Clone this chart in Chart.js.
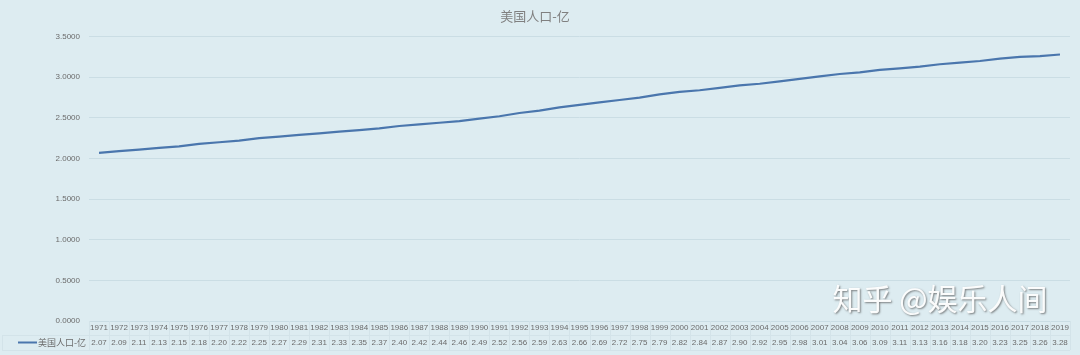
<!DOCTYPE html>
<html>
<head>
<meta charset="utf-8">
<script src="https://cdn.jsdelivr.net/npm/chart.js@4/dist/chart.umd.min.js"></script>
<style>
  html, body { margin: 0; padding: 0; background: #ddecf1; }
  #chart { display: block; }
</style>
</head>
<body>
<canvas id="chart" width="1080" height="355"></canvas>
<script>
// Données (population des USA, en centaines de millions)
const years = [
  '1971','1972','1973','1974','1975','1976','1977','1978','1979','1980',
  '1981','1982','1983','1984','1985','1986','1987','1988','1989','1990',
  '1991','1992','1993','1994','1995','1996','1997','1998','1999','2000',
  '2001','2002','2003','2004','2005','2006','2007','2008','2009','2010',
  '2011','2012','2013','2014','2015','2016','2017','2018','2019'
];
const population = [
  2.07, 2.09, 2.11, 2.13, 2.15, 2.18, 2.20, 2.22, 2.25, 2.27,
  2.29, 2.31, 2.33, 2.35, 2.37, 2.40, 2.42, 2.44, 2.46, 2.49,
  2.52, 2.56, 2.59, 2.63, 2.66, 2.69, 2.72, 2.75, 2.79, 2.82,
  2.84, 2.87, 2.90, 2.92, 2.95, 2.98, 3.01, 3.04, 3.06, 3.09,
  3.11, 3.13, 3.16, 3.18, 3.20, 3.23, 3.25, 3.26, 3.28
];
const yTicks = [0, 0.5, 1.0, 1.5, 2.0, 2.5, 3.0, 3.5];
const seriesName = '美国人口-亿';
const chartTitle = '美国人口-亿';
const watermark = '知乎 @娱乐人间';

const lineColor = '#4a76ad';
const gridColor = '#cadde4';
const textColor = '#6b6b6b';
const numFont = "'Liberation Sans', sans-serif";
const cjkFont = "'Noto Sans CJK SC', sans-serif";

// Tableau de données sous l'axe (comme dans Excel) + filigrane
const dataTable = {
  id: 'dataTable',
  afterDraw(chart) {
    const ctx = chart.ctx;
    const x = chart.scales.x;
    const area = chart.chartArea;
    const rowMid = 335;
    const bottom = 350;
    const half = (x.getPixelForValue(1) - x.getPixelForValue(0)) / 2;
    ctx.save();

    // lignes du tableau
    ctx.strokeStyle = '#d3e3e9';
    ctx.lineWidth = 1;
    ctx.beginPath();
    ctx.moveTo(2, rowMid + 0.5);
    ctx.lineTo(area.right, rowMid + 0.5);
    ctx.moveTo(2, bottom + 0.5);
    ctx.lineTo(area.right, bottom + 0.5);
    ctx.moveTo(2.5, rowMid);
    ctx.lineTo(2.5, bottom);
    years.forEach((y, i) => {
      const px = Math.round(x.getPixelForValue(i) - half) + 0.5;
      ctx.moveTo(px, area.bottom);
      ctx.lineTo(px, bottom);
    });
    ctx.moveTo(Math.round(area.right) + 0.5, area.bottom);
    ctx.lineTo(Math.round(area.right) + 0.5, bottom);
    ctx.stroke();

    // légende de la série
    ctx.strokeStyle = lineColor;
    ctx.lineWidth = 2;
    ctx.beginPath();
    ctx.moveTo(18, 342.5);
    ctx.lineTo(37, 342.5);
    ctx.stroke();
    ctx.fillStyle = textColor;
    ctx.font = '9px ' + cjkFont;
    ctx.textAlign = 'left';
    ctx.textBaseline = 'middle';
    ctx.fillText(seriesName, 38, 343);

    // valeurs
    ctx.font = '8px ' + numFont;
    ctx.textAlign = 'center';
    population.forEach((v, i) => {
      ctx.fillText(v.toFixed(2), x.getPixelForValue(i), 343);
    });

    // filigrane
    ctx.font = '30px ' + cjkFont;
    ctx.textAlign = 'center';
    ctx.textBaseline = 'middle';
    ctx.shadowColor = 'rgba(80,80,80,0.75)';
    ctx.shadowOffsetX = 1;
    ctx.shadowOffsetY = 1;
    ctx.shadowBlur = 2;
    ctx.fillStyle = 'rgba(255,255,255,0.95)';
    ctx.fillText(watermark, 940, 299);
    ctx.restore();
  }
};

new Chart(document.getElementById('chart'), {
  type: 'line',
  data: {
    labels: years,
    datasets: [{
      label: seriesName,
      data: population,
      borderColor: lineColor,
      borderWidth: 2.2,
      pointRadius: 0,
      tension: 0,
      fill: false
    }]
  },
  options: {
    responsive: false,
    animation: false,
    layout: { padding: { left: 0, right: 10, top: 0, bottom: 0 } },
    plugins: {
      legend: { display: false },
      tooltip: { enabled: false },
      title: {
        display: true,
        text: chartTitle,
        color: '#808080',
        font: { family: cjkFont, size: 13, weight: 'normal' },
        padding: { top: 8, bottom: 13 }
      }
    },
    scales: {
      x: {
        offset: true,
        grid: { display: false, drawTicks: false, tickLength: 0 },
        border: { display: true, color: gridColor },
        ticks: {
          color: textColor,
          font: { family: numFont, size: 8 },
          autoSkip: false,
          maxRotation: 0,
          minRotation: 0,
          padding: 2
        },
        afterFit(scale) { scale.height = 34; }
      },
      y: {
        min: 0,
        max: 3.5,
        afterBuildTicks(scale) { scale.ticks = yTicks.map(v => ({ value: v })); },
        grid: { color: gridColor, drawTicks: false },
        border: { display: false },
        ticks: {
          color: textColor,
          font: { family: numFont, size: 8 },
          padding: 9,
          callback: v => Number(v).toFixed(4)
        },
        afterFit(scale) { scale.width = 89; }
      }
    }
  },
  plugins: [dataTable]
});
</script>
</body>
</html>
